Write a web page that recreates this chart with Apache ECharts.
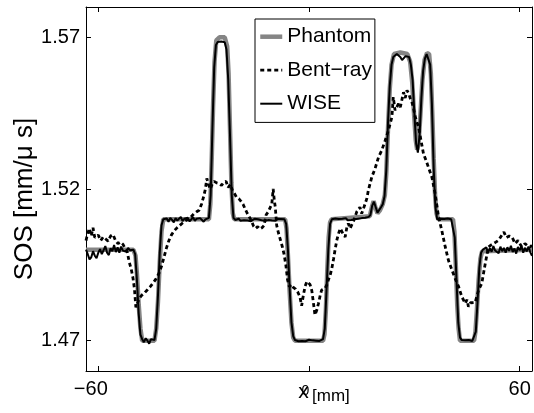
<!DOCTYPE html>
<html>
<head>
<meta charset="utf-8">
<script src="https://cdn.jsdelivr.net/npm/echarts@6/dist/echarts.min.js"></script>
<style>
  html, body { margin: 0; padding: 0; background: #fff; }
  #chart { width: 534px; height: 413px; }
</style>
</head>
<body>
<div id="chart"></div>
<script>
// Speed-of-sound profiles along x (mm)
const xTickValues = [-60, 0, 60];
const xTickLabels = ['−60', '0', '60'];
const yTickValues = [1.47, 1.52, 1.57];
const yTickLabels = ['1.47', '1.52', '1.57'];

const seriesNames = ['Phantom', 'Bent−ray', 'WISE'];

// Phantom (ground truth) profile
const phantomX = [-63.5, -50.0, -49.4, -49.0, -48.5, -48.0, -47.5, -44.0, -43.5, -43.0, -42.5, -42.0, -41.5,
  -28.5, -28.1, -27.7, -27.3, -26.9, -26.4, -25.5, -24.0, -23.3, -22.9, -22.5, -22.1, -21.7, -21.3,
  -6.8, -6.4, -6.0, -5.5, -5.0, -4.5, -4.0, 4.0, 4.4, 4.8, 5.2, 5.6, 6.0, 6.4,
  17.3, 17.9, 18.4, 18.9, 19.5, 20.2, 21.0, 21.6, 22.0, 22.5, 23.0, 23.5, 24.2, 26.0, 28.0, 28.8, 29.4, 29.9,
  30.4, 30.8, 31.2, 31.7, 32.3, 32.9, 33.6, 34.2, 34.7, 35.1, 35.5, 35.9, 36.3, 36.8,
  41.0, 41.4, 41.8, 42.2, 42.6, 43.0, 47.0, 47.4, 47.8, 48.3, 48.8, 49.3, 49.8, 63.5];
const phantomY = [1.500, 1.500, 1.498, 1.492, 1.482, 1.474, 1.470, 1.470, 1.474, 1.483, 1.496, 1.506, 1.510,
  1.510, 1.515, 1.530, 1.548, 1.562, 1.569, 1.570, 1.570, 1.567, 1.558, 1.540, 1.522, 1.512, 1.510,
  1.510, 1.507, 1.498, 1.486, 1.476, 1.471, 1.470, 1.470, 1.472, 1.480, 1.493, 1.504, 1.509, 1.510,
  1.511, 1.514, 1.516, 1.514, 1.512, 1.513, 1.515, 1.518, 1.525, 1.540, 1.553, 1.561, 1.5645, 1.565, 1.5645, 1.562, 1.555, 1.545,
  1.536, 1.533, 1.535, 1.544, 1.556, 1.5625, 1.5648, 1.5645, 1.558, 1.545, 1.530, 1.518, 1.512, 1.510,
  1.510, 1.506, 1.495, 1.482, 1.474, 1.470, 1.470, 1.473, 1.480, 1.490, 1.497, 1.4995, 1.500, 1.500];

// Bent-ray reconstruction
const bentX = [-63.5, -63.0, -62.5, -62.0, -61.5, -61.0, -60.5, -60.0, -59.3, -58.6, -57.9, -57.2, -56.5, -55.8,
  -55.1, -54.4, -53.7, -53.0, -52.4, -51.8, -51.2, -50.6, -50.1, -49.7, -49.3, -48.8, -48.3, -47.6, -46.8,
  -46.0, -45.2, -44.4, -43.6, -42.8, -42.0, -41.3, -40.6, -39.9, -39.2, -38.4, -37.6, -36.8, -36.0, -35.2,
  -34.4, -33.6, -32.8, -32.0, -31.3, -30.6, -30.0, -29.5, -29.1, -28.6, -28.1, -27.6, -27.0, -26.3, -25.6,
  -24.9, -24.3, -23.6, -23.0, -22.4, -21.8, -21.2, -20.6, -20.0, -19.4, -18.8, -18.2, -17.6, -17.0, -16.4,
  -15.8, -15.2, -14.6, -14.0, -13.4, -12.8, -12.2, -11.6, -11.0, -10.6, -10.2, -9.9, -9.6, -9.2, -8.7,
  -8.2, -7.6, -7.1, -6.6, -6.1, -5.6, -5.0, -4.4, -3.8, -3.2, -2.6, -2.1, -1.6, -1.1, -0.6, -0.2,
  0.3, 0.8, 1.2, 1.7, 2.2, 2.7, 3.2, 3.6, 4.1, 4.6, 5.1, 5.5, 6.0, 6.5, 7.0, 7.4, 7.9, 8.4, 8.9, 9.3,
  9.8, 10.3, 10.8, 11.2, 11.7, 12.2, 12.7, 13.1, 13.6, 14.1, 14.5, 15.0, 15.5, 16.0, 16.5, 16.9, 17.9,
  18.8, 19.8, 20.7, 21.7, 22.6, 23.6, 24.0, 24.5, 25.0, 25.5, 26.0, 26.4, 26.9, 27.4, 27.9, 28.4, 28.8,
  29.2, 29.7, 30.2, 30.7, 31.2, 31.9, 32.6, 33.3, 34.0, 35.0, 35.9, 36.9, 37.8, 38.8, 39.7, 40.7, 41.6,
  42.6, 43.5, 44.5, 45.0, 45.4, 46.0, 46.4, 47.3, 48.3, 49.2, 50.2, 51.1, 51.8, 52.5, 53.2, 54.0, 54.9,
  55.5, 56.2, 57.0, 57.8, 58.7, 59.5, 60.6, 61.5, 62.3, 63.0, 63.5];
const bentY = [1.5030, 1.5055, 1.5070, 1.5045, 1.5072, 1.5040, 1.5035, 1.5048, 1.5030, 1.5042, 1.5035, 1.5028, 1.5045, 1.5050,
  1.5030, 1.5020, 1.5025, 1.5018, 1.5005, 1.4995, 1.4960, 1.4935, 1.4905, 1.4870, 1.4810, 1.4825, 1.4840, 1.4850, 1.4858,
  1.4868, 1.4878, 1.4890, 1.4903, 1.4920, 1.4945, 1.4975, 1.5005, 1.5030, 1.5048, 1.5062, 1.5072, 1.5080, 1.5088, 1.5095,
  1.5100, 1.5108, 1.5118, 1.5125, 1.5130, 1.5150, 1.5175, 1.5200, 1.5235, 1.5215, 1.5200, 1.5215, 1.5225, 1.5220, 1.5218,
  1.5212, 1.5222, 1.5225, 1.5205, 1.5215, 1.5195, 1.5185, 1.5172, 1.5168, 1.5160, 1.5150, 1.5135, 1.5120, 1.5108, 1.5095,
  1.5078, 1.5070, 1.5076, 1.5068, 1.5072, 1.5080, 1.5115, 1.5125, 1.5140, 1.5150, 1.5200, 1.5165, 1.5140, 1.5080, 1.5055,
  1.5035, 1.5010, 1.4985, 1.4950, 1.4900, 1.4878, 1.4885, 1.4875, 1.4870, 1.4860, 1.4845, 1.4815, 1.4850, 1.4880, 1.4895, 1.4900,
  1.4885, 1.4865, 1.4830, 1.4785, 1.4800, 1.4823, 1.4850, 1.4867, 1.4870, 1.4873, 1.4885, 1.4900, 1.4915, 1.4938, 1.4970, 1.4998, 1.5030, 1.5053, 1.5070, 1.5064,
  1.5050, 1.5042, 1.5075, 1.5086, 1.5070, 1.5064, 1.5095, 1.5108, 1.5125, 1.5124, 1.5140, 1.5119, 1.5135, 1.5152, 1.5170, 1.5196, 1.5240,
  1.5267, 1.5305, 1.5327, 1.5360, 1.5393, 1.5437, 1.5503, 1.5459, 1.5470, 1.5481, 1.5470, 1.5491, 1.5519, 1.5500, 1.5525, 1.5515, 1.5500,
  1.5490, 1.5470, 1.5440, 1.5437, 1.5404, 1.5360, 1.5316, 1.5295, 1.5272, 1.5239, 1.5185, 1.5108, 1.5064, 1.5009, 1.4965, 1.4933, 1.4905,
  1.4878, 1.4845, 1.4823, 1.4835, 1.4812, 1.4825, 1.4823, 1.4826, 1.4867, 1.4889, 1.4955, 1.5009, 1.5015, 1.5020, 1.5025, 1.5031, 1.5048,
  1.5058, 1.5040, 1.5045, 1.5042, 1.5020, 1.5030, 1.5009, 1.5020, 1.5012, 1.5009, 1.5015];

// WISE reconstruction, sampled every 0.5 mm from -63.5 mm
const wiseStart = -63.5;
const wiseStep = 0.5;
const wiseY = [
  1.5000, 1.4985, 1.4968, 1.4975, 1.4995, 1.4980, 1.4972, 1.4990, 1.5002, 1.4985,
  1.4998, 1.5012, 1.4990, 1.4982, 1.5005, 1.4995, 1.5015, 1.4992, 1.5008, 1.4990,
  1.5010, 1.4997, 1.5003, 1.4993, 1.5006, 1.4998, 1.5002, 1.5000, 1.4985, 1.4900,
  1.4790, 1.4720, 1.4705, 1.4695, 1.4708, 1.4700, 1.4690, 1.4705, 1.4700, 1.4702,
  1.4740, 1.4850, 1.4990, 1.5080, 1.5100, 1.5095, 1.5103, 1.5092, 1.5105, 1.5098,
  1.5090, 1.5104, 1.5096, 1.5100, 1.5108, 1.5094, 1.5102, 1.5097, 1.5105, 1.5093,
  1.5100, 1.5107, 1.5095, 1.5102, 1.5096, 1.5104, 1.5098, 1.5092, 1.5100, 1.5097,
  1.5105, 1.5180, 1.5400, 1.5600, 1.5675, 1.5685, 1.5688, 1.5686, 1.5688, 1.5684,
  1.5660, 1.5560, 1.5380, 1.5180, 1.5105, 1.5098, 1.5096, 1.5102, 1.5095, 1.5100,
  1.5097, 1.5103, 1.5096, 1.5100, 1.5094, 1.5099, 1.5102, 1.5096, 1.5100, 1.5104,
  1.5097, 1.5101, 1.5095, 1.5100, 1.5098, 1.5103, 1.5096, 1.5100, 1.5095, 1.5102,
  1.5098, 1.5101, 1.5097, 1.5100, 1.5085, 1.5000, 1.4870, 1.4760, 1.4715, 1.4702,
  1.4700, 1.4698, 1.4702, 1.4699, 1.4701, 1.4698, 1.4700, 1.4703, 1.4699, 1.4701,
  1.4698, 1.4700, 1.4702, 1.4699, 1.4700, 1.4705, 1.4740, 1.4870, 1.5000, 1.5085,
  1.5100, 1.5097, 1.5103, 1.5098, 1.5101, 1.5096, 1.5102, 1.5099, 1.5104, 1.5097,
  1.5101, 1.5098, 1.5103, 1.5100, 1.5096, 1.5102, 1.5099, 1.5104, 1.5101, 1.5105,
  1.5103, 1.5108, 1.5115, 1.5145, 1.5158, 1.5140, 1.5122, 1.5128, 1.5140, 1.5150,
  1.5175, 1.5260, 1.5420, 1.5540, 1.5610, 1.5635, 1.5640, 1.5645, 1.5650, 1.5635,
  1.5625, 1.5620, 1.5638, 1.5642, 1.5635, 1.5610, 1.5560, 1.5450, 1.5350, 1.5320,
  1.5380, 1.5500, 1.5590, 1.5630, 1.5645, 1.5645, 1.5610, 1.5480, 1.5270, 1.5140,
  1.5100, 1.5098, 1.5102, 1.5097, 1.5101, 1.5099, 1.5103, 1.5098, 1.5100, 1.5096,
  1.5040, 1.4900, 1.4760, 1.4710, 1.4702, 1.4699, 1.4701, 1.4698, 1.4702, 1.4700,
  1.4699, 1.4700, 1.4730, 1.4830, 1.4940, 1.4990, 1.5000, 1.4995, 1.5008, 1.4990,
  1.5005, 1.4993, 1.5012, 1.4997, 1.5003, 1.4988, 1.5010, 1.4995, 1.5006, 1.4990,
  1.5008, 1.4996, 1.5013, 1.4992, 1.5004, 1.4987, 1.5009, 1.4998, 1.5011, 1.4990,
  1.5006, 1.4994, 1.5010, 1.4992, 1.4980];

const FONT = '"Liberation Sans", Arial, Helvetica, sans-serif';

const pairs = (xs, ys) => xs.map((x, i) => [x, ys[i]]);
const phantomData = pairs(phantomX, phantomY);
const bentData = pairs(bentX, bentY);
const wiseData = wiseY.map((y, i) => [wiseStart + i * wiseStep, y]);

const xRange = { min: -63.5, max: 63.5 };
const yRange = { min: 1.46, max: 1.58 };

const chart = echarts.init(document.getElementById('chart'), null, { renderer: 'canvas' });

// Frame: every axis sits on the plot edge, never on the zero crossing
const frameAxis = () => ({
  axisLine: { show: true, onZero: false, lineStyle: { color: '#000', width: 1 } },
  splitLine: { show: false }
});
const innerTicks = values => ({ show: true, inside: true, length: 5, customValues: values, lineStyle: { color: '#000', width: 1 } });

chart.setOption({
  animation: false,
  backgroundColor: '#fff',
  grid: { left: 86, right: 2, top: 7, bottom: 42, containLabel: false },
  xAxis: [
    Object.assign({
      type: 'value', position: 'bottom', min: xRange.min, max: xRange.max,
      axisTick: innerTicks(xTickValues),
      axisLabel: {
        show: true, customValues: xTickValues, margin: 8,
        formatter: v => {
          const i = xTickValues.indexOf(v);
          const key = i === 0 ? 'neg' : (i === 1 ? 'zero' : 'pos');
          return '{' + key + '|' + xTickLabels[i] + '}';
        },
        rich: {
          neg: { fontSize: 20, fontFamily: FONT, color: '#000', padding: [0, 15, 0, 0] },
          zero: { fontSize: 14, fontFamily: FONT, color: '#000', padding: [5, 7, 0, 0] },
          pos: { fontSize: 20, fontFamily: FONT, color: '#000' }
        }
      }
    }, frameAxis()),
    Object.assign({
      type: 'value', position: 'top', min: xRange.min, max: xRange.max,
      axisTick: innerTicks(xTickValues),
      axisLabel: { show: false }
    }, frameAxis())
  ],
  yAxis: [
    Object.assign({
      type: 'value', position: 'left', min: yRange.min, max: yRange.max,
      axisTick: innerTicks(yTickValues),
      axisLabel: {
        show: true, customValues: yTickValues, margin: 6,
        formatter: v => yTickLabels[yTickValues.findIndex(t => Math.abs(t - v) < 1e-9)],
        fontSize: 20, fontFamily: FONT, color: '#000', padding: [5, 0, 0, 0]
      }
    }, frameAxis()),
    Object.assign({
      type: 'value', position: 'right', min: yRange.min, max: yRange.max,
      axisTick: innerTicks(yTickValues),
      axisLabel: { show: false }
    }, frameAxis())
  ],
  legend: {
    orient: 'vertical', left: 255, top: 19,
    itemWidth: 22, itemHeight: 22, itemGap: 11.5,
    padding: [6.7, 3, 7.7, 3],
    backgroundColor: '#fff', borderColor: '#000', borderWidth: 1, borderRadius: 0,
    textStyle: { fontSize: 21, fontFamily: FONT, color: '#000', lineHeight: 22 },
    lineStyle: { width: 'inherit' },
    itemStyle: { opacity: 0 },
    data: seriesNames
  },
  graphic: [
    {
      type: 'text', x: 25, y: 199, rotation: Math.PI / 2,
      style: { text: 'SOS [mm/μ s]', fontSize: 26, fontFamily: FONT, fill: '#000', align: 'center', verticalAlign: 'middle' }
    },
    {
      type: 'text', x: 303.5, y: 392,
      style: { text: 'x', fontSize: 21, fontFamily: FONT, fill: '#000', align: 'center', verticalAlign: 'middle' }
    },
    {
      type: 'text', x: 312, y: 396,
      style: { text: '[mm]', fontSize: 17, fontFamily: FONT, fill: '#000', align: 'left', verticalAlign: 'middle' }
    }
  ],
  series: [
    {
      name: seriesNames[0], type: 'line', data: phantomData, symbol: 'none', showSymbol: false, smooth: false,
      lineStyle: { color: '#858585', width: 4.5 }, itemStyle: { color: '#858585' }, z: 2
    },
    {
      name: seriesNames[1], type: 'line', data: bentData, symbol: 'none', showSymbol: false,
      lineStyle: { color: '#000', width: 2.8, type: [4, 3] }, itemStyle: { color: '#000' }, z: 3
    },
    {
      name: seriesNames[2], type: 'line', data: wiseData, symbol: 'none', showSymbol: false,
      lineStyle: { color: '#000', width: 2 }, itemStyle: { color: '#000' }, z: 4
    }
  ]
});
</script>
</body>
</html>
